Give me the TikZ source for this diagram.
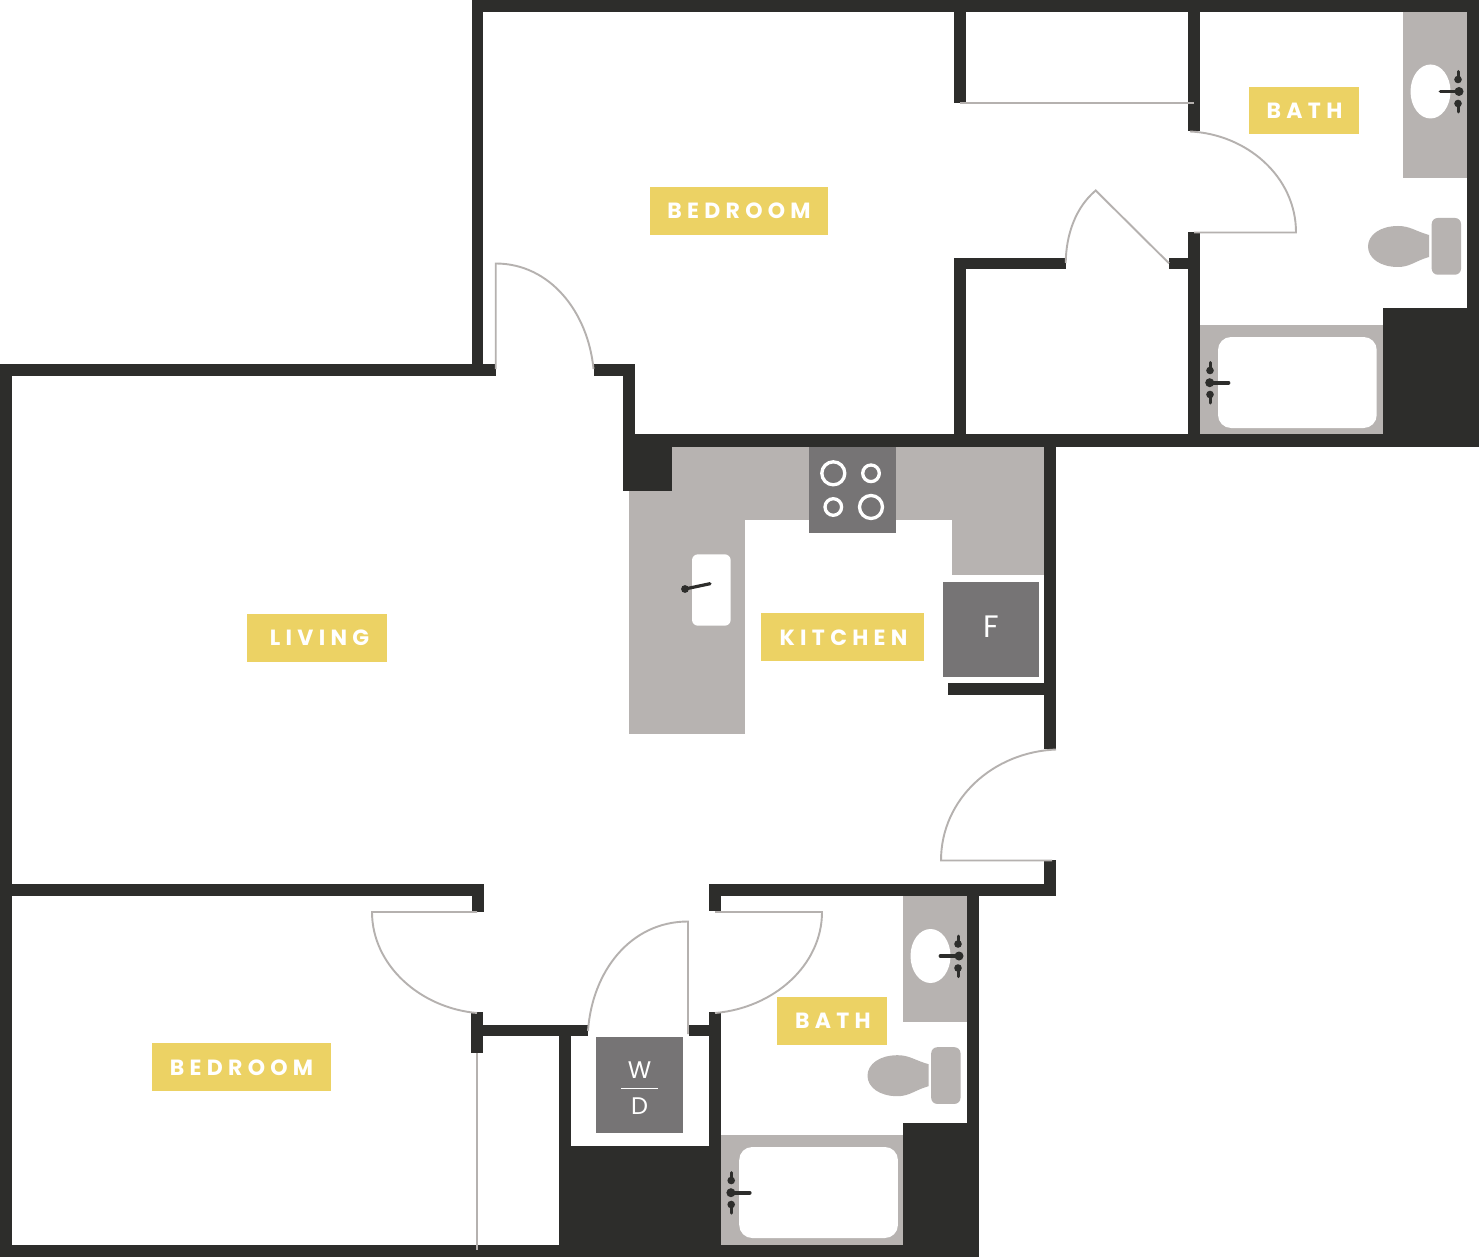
\documentclass[tikz,border=0pt]{standalone}
\usepackage{fontspec}
\newfontfamily\labfont[LetterSpace=24,BoldFont={Poppins Bold}]{Poppins}
\newfontfamily\appfont{Poppins}
\definecolor{wallc}{HTML}{2D2D2B}
\definecolor{fixc}{HTML}{B7B3B1}
\definecolor{appc}{HTML}{767475}
\definecolor{labc}{HTML}{ECD264}
\definecolor{doorc}{HTML}{B5B1AF}
\tikzset{
  wall/.style={fill=wallc,draw=none},
  fixture/.style={fill=fixc,draw=none},
  appliance/.style={fill=appc,draw=none},
  door/.style={draw=doorc,line width=1.9pt,line join=miter},
  basin/.style={fill=white,draw=none},
  ringb/.style={draw=white,line width=3.3pt},
  tap/.style={draw=wallc,line width=3.8pt,line cap=round},
  tag/.style={fill=labc,text=white,inner sep=0pt,font=\labfont\bfseries\fontsize{22}{22}\selectfont},
  appl/.style={text=white,inner sep=0pt}
}
\newcommand{\knob}[3]{% x, ball y, tip y
  \draw[tap,line width=3pt] (#1,#2) -- (#1,#3);
  \fill[wallc] (#1,#2) circle (3.8);
}
\newcommand{\bowlunit}{%
  \fill[fixture,rounded corners=6] (1431.7,218) rectangle (1461,274.7);
  \fill[fixture] (1429,235) .. controls (1415,231) and (1410,226) .. (1398,226)
     .. controls (1380,226) and (1368,235) .. (1368,246.5)
     .. controls (1368,258) and (1380,267) .. (1398,267)
     .. controls (1410,267) and (1415,261) .. (1429,257) -- cycle;
}
\newcommand{\sinkunit}{%
  \fill[basin] (1430.5,91.5) ellipse (20 and 27);
  \draw[tap] (1440.5,91.5) -- (1459,91.5);
  \fill[wallc] (1459,91.5) circle (4.5);
  \knob{1458}{79.5}{71.5}
  \knob{1458}{103.5}{112}
}
\newcommand{\tubunit}{%
  \fill[basin,rounded corners=13] (1218,337) rectangle (1376.7,428);
  \draw[tap] (1209.7,382.7) -- (1228.5,382.7);
  \fill[wallc] (1209.7,382.7) circle (4.5);
  \knob{1210}{370.5}{362.5}
  \knob{1210}{394.5}{403}
}
\begin{document}
\begin{tikzpicture}[x=1pt,y=-1pt]
\useasboundingbox (0,0) rectangle (1480,1257);
\fill[white] (0,0) rectangle (1480,1257);

% fixtures (under the walls)
\fill[fixture] (629,446) rectangle (745,733.7);
\fill[fixture] (629,446) rectangle (1044,520.3);
\fill[fixture] (952,446) rectangle (1044,575);
\fill[fixture] (1403,12) rectangle (1467,177.7);
\fill[fixture] (1200,325) rectangle (1383,434);
\fill[fixture] (903,896) rectangle (967,1022);
\fill[fixture] (721,1135) rectangle (903,1245);

% walls
\fill[wall] (471.5,0) rectangle (1479,12);
\fill[wall] (471.5,0) rectangle (483.3,376);
\fill[wall] (1467,0) rectangle (1479,446);
\fill[wall] (623,434) rectangle (1479,446.5);
\fill[wall] (1383,308) rectangle (1479,446);
\fill[wall] (1188,0) rectangle (1200,131.3);
\fill[wall] (1188,232.3) rectangle (1200,446);
\fill[wall] (1169,257.7) rectangle (1188,269.3);
\fill[wall] (954,0) rectangle (966,103.3);
\fill[wall] (954,257.7) rectangle (966,446);
\fill[wall] (954,257.7) rectangle (1066,269.3);
\fill[wall] (0,363.5) rectangle (496,375.5);
\fill[wall] (594,363.5) rectangle (635,375.5);
\fill[wall] (623,363.5) rectangle (635,434);
\fill[wall] (623,434) rectangle (672,491.3);
\fill[wall] (0,363.5) rectangle (12,1257);
\fill[wall] (0,1245) rectangle (979,1257);
\fill[wall] (1044,434) rectangle (1056,749);
\fill[wall] (948,682.7) rectangle (1044,694.7);
\fill[wall] (1044,860) rectangle (1056,896);
\fill[wall] (0,884) rectangle (484,896);
\fill[wall] (709,884) rectangle (1056,896);
\fill[wall] (472,896) rectangle (484,912);
\fill[wall] (709,896) rectangle (721,911);
\fill[wall] (471,1012) rectangle (483,1052.7);
\fill[wall] (483,1024.5) rectangle (588,1036);
\fill[wall] (688.5,1024.5) rectangle (709,1036);
\fill[wall] (559,1036) rectangle (571,1245);
\fill[wall] (559,1146) rectangle (721,1257);
\fill[wall] (709,1012) rectangle (721,1245);
\fill[wall] (967,884) rectangle (979,1257);
\fill[wall] (903,1123.3) rectangle (979,1257);

% bath fittings, upper bath
\bowlunit
\sinkunit
\tubunit
% lower bath, same fittings moved
\begin{scope}[shift={(-500.5,829.2)}]\bowlunit\end{scope}
\begin{scope}[shift={(-500,864.5)}]\sinkunit\end{scope}
\begin{scope}[shift={(-478.8,810)}]\tubunit\end{scope}

% kitchen sink
\fill[basin,rounded corners=6] (692,554.3) rectangle (730.7,625.7);
\draw[tap,line width=3.2pt] (685,589) -- (710,583.7);
\fill[wallc] (685,589) circle (3.9);

% range
\fill[appliance] (809,446.5) rectangle (895.7,532.7);
\draw[ringb] (833.3,473.3) circle (11.5);
\draw[ringb] (871,473.3) circle (8.3);
\draw[ringb] (833.3,507) circle (8.3);
\draw[ringb] (871,507) circle (11.5);

% fridge and washer/dryer
\fill[appliance] (942.7,582.3) rectangle (1039.3,677.3);
\fill[appliance] (596,1037) rectangle (683,1133.3);
\node[appl,font=\appfont\fontsize{31}{31}\selectfont] (fridge) at (991.7,627) {F};
\node[appl,font=\appfont\fontsize{24}{24}\selectfont] (washer) at (639.5,1070) {W};
\node[appl,font=\appfont\fontsize{24}{24}\selectfont] (dryer) at (639.5,1106.5) {D};
\draw[white,line width=0.8pt] (621,1088) -- (658,1088);

% doors
\draw[door] (1194,103.3) -- (960,103.3);
\draw[door] (1190,131.5) .. controls (1246,134) and (1296,176) .. (1296,232.5) -- (1194,232.5);
\draw[door] (1065.7,263) .. controls (1066,234) and (1076,207) .. (1095.7,190.5) -- (1169,263.3);
\draw[door] (593.5,369) .. controls (588,312) and (550,263.5) .. (495.7,263.5) -- (495.7,369);
\draw[door] (1056,749.5) .. controls (993,752) and (941,799) .. (941,860.5) -- (1052,860.5);
\draw[door] (477,912) -- (372,912) .. controls (372,965) and (420,1008) .. (477,1013);
\draw[door] (715,912) -- (822,912) .. controls (822,965) and (774,1008) .. (715,1013);
\draw[door] (588,1031) .. controls (592,972) and (630,921.5) .. (688,921.5) -- (688,1034);
\draw[door] (477,1053) -- (477,1250);

% labels
\fill[labc] (650,187) rectangle (828,235);
\node[tag] (bedone) at (739,211) {BEDROOM};
\fill[labc] (1249,86.7) rectangle (1359,134);
\node[tag] (bathone) at (1304.5,110.5) {BATH};
\fill[labc] (247,614) rectangle (387,662);
\node[tag] (living) at (319.5,638) {LIVING};
\fill[labc] (761.3,613) rectangle (923.7,661);
\node[tag] (kitchen) at (843.5,637.5) {KITCHEN};
\fill[labc] (152,1043) rectangle (331,1091);
\node[tag] (bedtwo) at (241.5,1068) {BEDROOM};
\fill[labc] (777,997.3) rectangle (887,1045.3);
\node[tag] (bathtwo) at (833,1021) {BATH};
\end{tikzpicture}
\end{document}
